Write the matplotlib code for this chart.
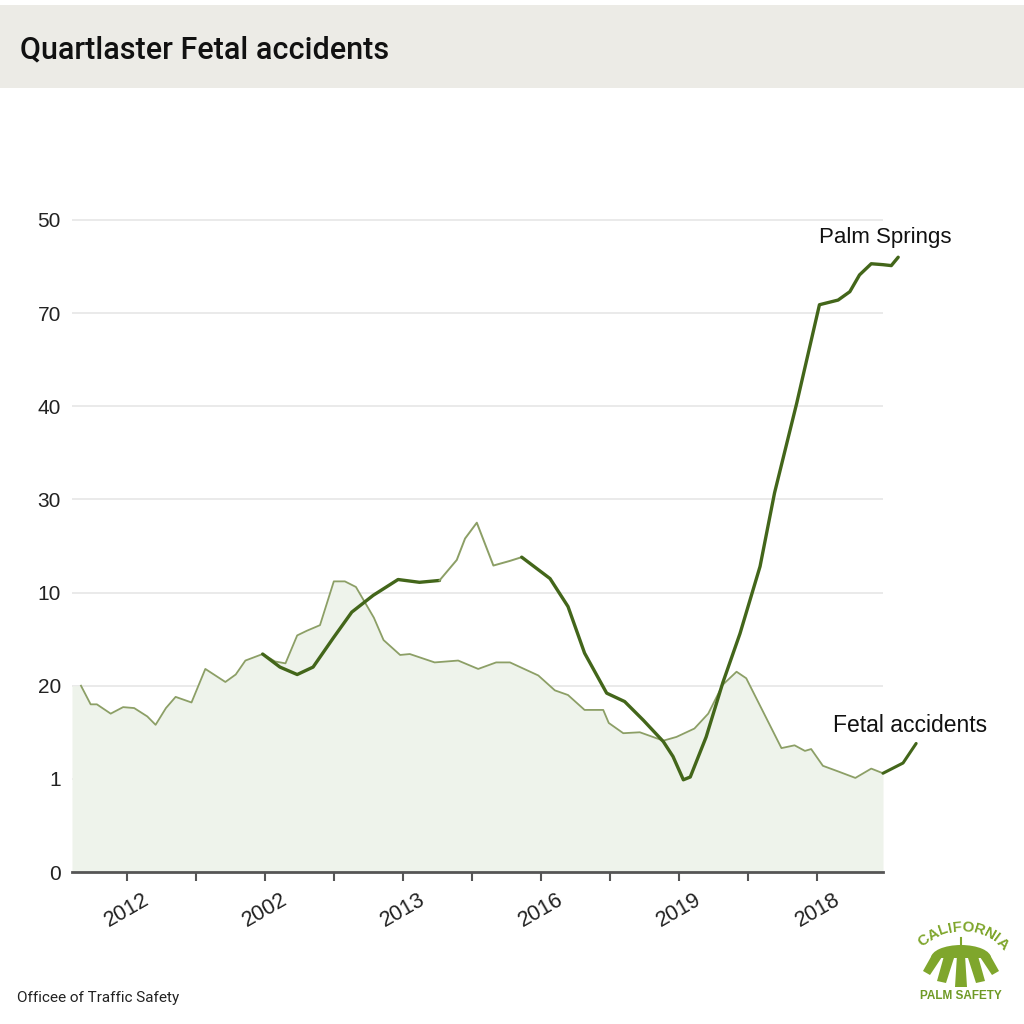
import numpy as np
import matplotlib
matplotlib.use("Agg")
import matplotlib.pyplot as plt
from matplotlib.patches import Rectangle, Polygon, Ellipse

plt.rcParams["font.family"] = ["Liberation Sans", "DejaVu Sans"]

# data (x in tick steps, y in label slots)
fetal_x = [-0.66, -0.52, -0.43, -0.23, -0.05, 0.11, 0.30, 0.42, 0.57, 0.71,
           0.94, 1.14, 1.43, 1.58, 1.72, 1.97, 2.15, 2.30, 2.47, 2.61,
           2.80, 3.00, 3.16, 3.32, 3.58, 3.72, 3.96, 4.10, 4.46, 4.80,
           5.09, 5.35, 5.55, 5.96, 6.20, 6.39, 6.63, 6.90, 6.98, 7.19,
           7.43, 7.77, 7.96, 8.22, 8.42, 8.63, 8.83, 8.97, 9.48, 9.67,
           9.82, 9.91, 10.08, 10.30, 10.55, 10.78, 10.95]
fetal_y = [2.00, 1.80, 1.80, 1.70, 1.77, 1.76, 1.67, 1.58, 1.76, 1.88,
           1.82, 2.18, 2.04, 2.12, 2.27, 2.34, 2.26, 2.24, 2.54, 2.59,
           2.65, 3.12, 3.12, 3.06, 2.73, 2.49, 2.33, 2.34, 2.25, 2.27,
           2.18, 2.25, 2.25, 2.11, 1.95, 1.90, 1.74, 1.74, 1.60, 1.49,
           1.50, 1.41, 1.45, 1.54, 1.70, 2.01, 2.15, 2.08, 1.33, 1.36,
           1.30, 1.32, 1.14, 1.08, 1.01, 1.11, 1.06]
fetal_tail_x = [10.95, 11.24, 11.43]
fetal_tail_y = [1.06, 1.17, 1.38]

palm_x = [1.97, 2.22, 2.47, 2.70, 2.99, 3.26, 3.57, 3.93, 4.24, 4.53,
          4.78, 4.90, 5.07, 5.31, 5.55, 5.72,
          6.13, 6.39, 6.63, 6.95, 7.21, 7.48, 7.77, 7.91, 8.06, 8.16,
          8.39, 8.63, 8.88, 9.17, 9.38, 9.70, 10.03, 10.30, 10.47, 10.61,
          10.78, 10.95, 11.07, 11.17]
palm_y = [2.34, 2.20, 2.12, 2.20, 2.51, 2.79, 2.97, 3.14, 3.11, 3.13,
          3.35, 3.58, 3.75, 3.29, 3.34, 3.38,
          3.15, 2.85, 2.35, 1.92, 1.83, 1.63, 1.40, 1.24, 0.99, 1.02,
          1.45, 2.03, 2.56, 3.28, 4.07, 5.03, 6.09, 6.14, 6.23, 6.41,
          6.53, 6.52, 6.51, 6.60]
thin_from, thin_to = 9, 15   # stretch of the dark series drawn thin

y_labels = ["0", "1", "20", "10", "30", "40", "70", "50"]
x_labels = ["2012", "2002", "2013", "2016", "2019", "2018"]

dark = "#43661a"
light = "#8c9f66"
fill = "#eef3eb"

fig = plt.figure(figsize=(10.24, 10.24), dpi=100)

# decoration layer in pixel coordinates
deco = fig.add_axes([0, 0, 1, 1])
deco.set_xlim(0, 1024)
deco.set_ylim(1024, 0)
deco.axis("off")
deco.add_patch(Rectangle((0, 5), 1024, 83, color="#ecebe6", lw=0))
deco.text(20, 50, "Quartlaster Fetal accidents", fontsize=22, family="Roboto",
          weight="medium", color="#111111", va="center", ha="left")
deco.text(17, 998, "Officee of Traffic Safety", fontsize=11, family="Roboto",
          color="#222222", va="center", ha="left")

# logo
logo = "#7fa62c"
cx, cy, r = 962, 985, 58
letters = "CALIFORNIA"
widths = np.array([.72, .72, .61, .30, .61, .78, .72, .72, .30, .72])
centers = np.cumsum(widths) - widths / 2
angs = 136 - (136 - 40) * centers / widths.sum()
for ang, ch in zip(angs, letters):
    a = np.radians(ang)
    deco.text(cx + r * np.cos(a), cy - r * np.sin(a), ch, fontsize=11,
              weight="bold", color=logo, rotation=ang - 90,
              ha="center", va="center")
deco.add_patch(Ellipse((961, 958), 60, 26, color=logo, lw=0))
deco.add_patch(Rectangle((925, 958), 72, 14, color="white", lw=0))
for pts in [[(944, 956), (954, 958), (946, 983), (937, 981)],
            [(932, 955), (942, 957), (930, 975), (923, 971)],
            [(968, 958), (978, 956), (985, 981), (976, 983)],
            [(980, 957), (990, 955), (999, 971), (992, 975)],
            [(957, 955), (965, 955), (967, 987), (955, 987)]]:
    deco.add_patch(Polygon(pts, color=logo, lw=0))
deco.plot([961, 961], [938, 948], color=logo, lw=1.5)
deco.text(961, 996, "PALM SAFETY", fontsize=8.5, weight="bold", color="#6f9a26",
          ha="center", va="center")

# main chart
ax = fig.add_axes([72 / 1024, 1 - 872 / 1024, 811 / 1024, 689.3 / 1024])
ax.set_zorder(2)
ax.patch.set_alpha(0)
xmin, xmax = -0.79, 10.95
ax.set_xlim(xmin, xmax)
ax.set_ylim(0, 7.4)

ax.fill_between(np.r_[xmin, fetal_x], np.r_[fetal_y[0], fetal_y],
                color=fill, lw=0, zorder=1)
ax.plot(fetal_x, fetal_y, color=light, lw=1.3, zorder=3)
ax.plot(fetal_tail_x, fetal_tail_y, color=dark, lw=2.2, zorder=4,
        clip_on=False, solid_capstyle="round")

ax.plot(palm_x[:thin_from + 1], palm_y[:thin_from + 1], color=dark, lw=2.4,
        zorder=4, solid_capstyle="round")
ax.plot(palm_x[thin_from:thin_to + 1], palm_y[thin_from:thin_to + 1],
        color=light, lw=1.4, zorder=4)
ax.plot(palm_x[thin_to:], palm_y[thin_to:], color=dark, lw=2.4, zorder=4,
        clip_on=False, solid_capstyle="round")

ax.text(10.03, 6.81, "Palm Springs", fontsize=16, ha="left", va="center",
        color="#111111")
ax.text(10.22, 1.57, "Fetal accidents", fontsize=16.5, ha="left", va="center",
        color="#111111")

ax.set_yticks(range(len(y_labels)))
ax.set_yticklabels(y_labels, fontsize=15, color="#222222")
ax.tick_params(axis="y", length=0, pad=8)
ax.grid(axis="y", color="#e6e6e6", lw=1.2, zorder=0)

ax.set_xticks(range(0, 11, 2))
ax.set_xticks(range(1, 11, 2), minor=True)
ax.set_xticklabels(x_labels, rotation=30, ha="center", fontsize=15.5,
                   color="#222222")
ax.tick_params(axis="x", which="both", length=6.5, width=1.5, color="#555555",
               direction="out", pad=6)

for side in ["top", "right", "left"]:
    ax.spines[side].set_visible(False)
ax.spines["bottom"].set_color("#555555")
ax.spines["bottom"].set_linewidth(2)
ax.set_axisbelow(True)

fig.savefig("out.png", dpi=100, facecolor="white")
